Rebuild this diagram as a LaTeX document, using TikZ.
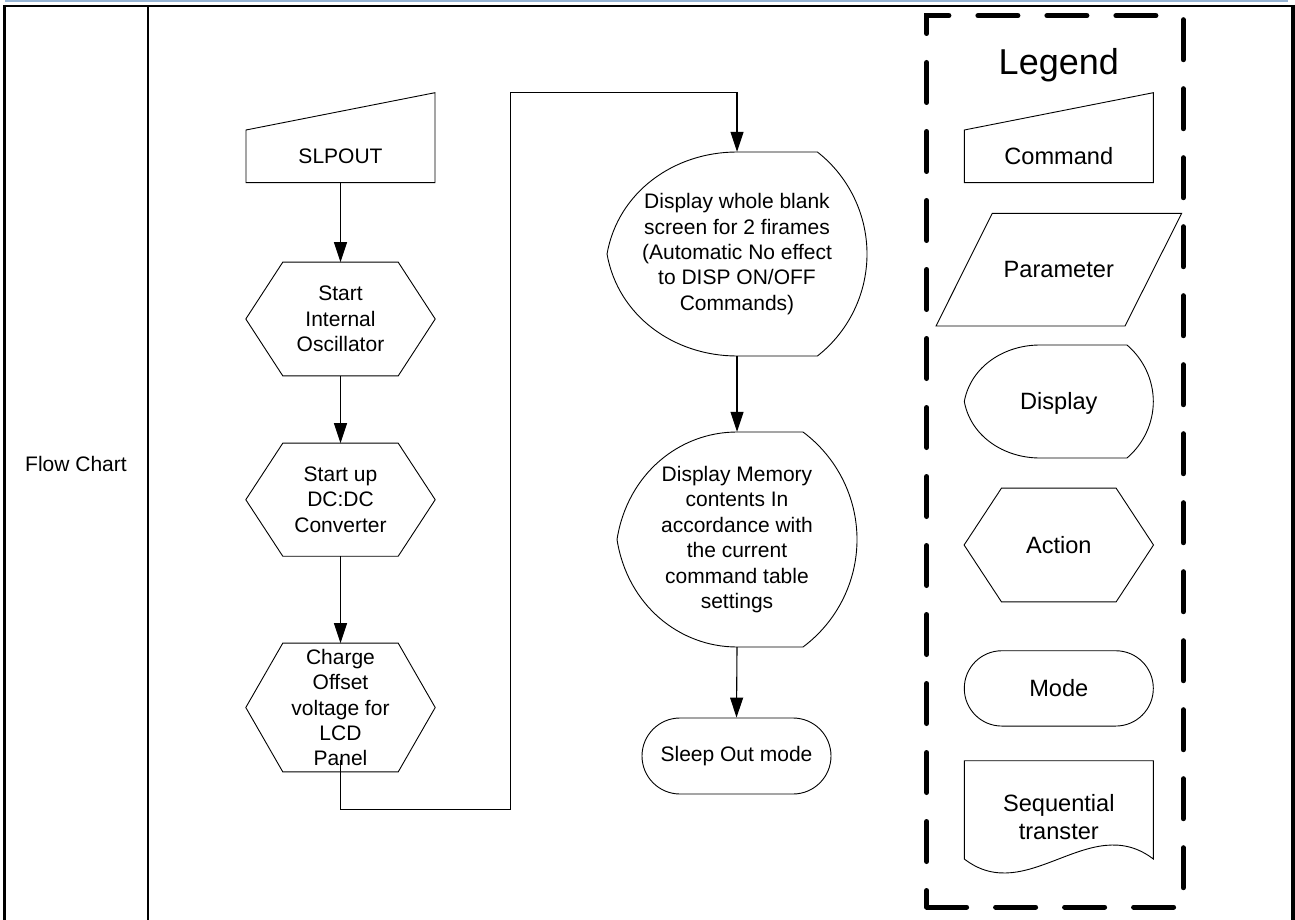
\documentclass[tikz,border=0pt]{standalone}
\usepackage{fontspec}
\setmainfont{Liberation Sans}
\usetikzlibrary{arrows.meta,calc}
\definecolor{topblue}{RGB}{150,180,212}
\newcommand\hexout[2]{\draw[outline] (#1.west) -- ($(#1.north west)+(#2,0)$) -- ($(#1.north east)+(-#2,0)$) -- (#1.east) -- ($(#1.south east)+(-#2,0)$) -- ($(#1.south west)+(#2,0)$) -- cycle;}
\begin{document}
\begin{tikzpicture}[x=1pt,y=-1pt,
  lbl/.style={inner sep=0pt, align=center, font=\fontsize{21pt}{25.4pt}\selectfont},
  leglbl/.style={inner sep=0pt, align=center, font=\fontsize{23.6pt}{28.6pt}\selectfont},
  outline/.style={draw=black, line width=0.9pt, line join=miter},
  conn/.style={draw=black, line width=1.1pt, -{Triangle[length=20pt,width=13pt]}},
  stadium/.style={draw=black, line width=0.9pt},
  legborder/.style={line width=5pt, line cap=round, dash pattern=on 40pt off 29pt},
]
\useasboundingbox (0,0) rectangle (1295,920);

% page frame
\draw[line width=1.5pt, topblue] (5,0.8) -- (1288,0.8);
\draw[line width=2.5pt] (3,6) -- (1294,6);
\draw[line width=3.5pt] (4.3,4.8) -- (4.3,920);
\draw[line width=2pt] (148,6) -- (148,920);
\draw[line width=4pt] (1292.8,4.8) -- (1292.8,920);

\node[lbl] (fc) at (76,464) {Flow Chart};

% ---------- flow chart ----------
\node[lbl, minimum width=189pt, minimum height=54pt] (slp) at (340.5,156) {SLPOUT};
\draw[outline] (246,130) -- (435,92.7) -- (435,182.7) -- (246,182.7) -- cycle;

\node[lbl, minimum width=189pt, minimum height=113.4pt] (h1) at (340.5,319) {Start\\Internal\\Oscillator};
\hexout{h1}{37}
\node[lbl, minimum width=189pt, minimum height=112.7pt] (h2) at (340.5,499.7) {Start up\\DC:DC\\Converter};
\hexout{h2}{37}
\node[lbl, minimum width=189pt, minimum height=128.4pt] (h3) at (340.5,707.5) {Charge\\Offset\\voltage for\\LCD\\Panel};
\hexout{h3}{37}

\node[lbl, minimum width=260pt, minimum height=204pt] (d1) at (737,254) {Display whole blank\\screen for 2 firames\\(Automatic No effect\\to DISP ON/OFF\\Commands)};
\draw[outline] (737,152) -- (817.4,152) .. controls (848.7,176.5) and (867,214.3) .. (867,254)
  .. controls (867,293.7) and (848.7,331.5) .. (817.4,356) -- (737,356)
  .. controls (674,356) and (618,316) .. (607,254)
  .. controls (618,192) and (674,152) .. (737,152) -- cycle;

\node[lbl, minimum width=240pt, minimum height=215pt] (d2) at (737,539.5) {Display Memory\\contents In\\accordance with\\the current\\command table\\settings};
\draw[outline] (737,432) -- (803,432) .. controls (836.9,457.3) and (857,497.2) .. (857,539.5)
  .. controls (857,581.8) and (836.9,621.7) .. (803,647) -- (737,647)
  .. controls (679.4,647) and (627.4,605.1) .. (617,539.5)
  .. controls (627.4,473.9) and (679.4,432) .. (737,432) -- cycle;

\node[lbl, stadium, rounded corners=38pt, minimum width=189pt, minimum height=76pt] (sl) at (736.5,756) {Sleep Out mode};

\coordinate (bend1) at (510.7,809.3);
\coordinate (bend2) at (510.7,92.7);
\draw[conn] (slp.south) -- (h1.north);
\draw[conn] (h1.south) -- (h2.north);
\draw[conn] (h2.south) -- (h3.north);
\draw[conn] ([yshift=12pt]h3.south) |- (bend1) -- (bend2) -| (d1.north);
\draw[conn] (d1.south) -- (d2.north);
\draw[conn] (d2.south) -- (sl.north);

% ---------- legend ----------
\draw[legborder, dash phase=65pt] (1183.3,15.7) -- (1183.3,907) -- (926.7,907);
\draw[legborder, dash phase=23.5pt] (926.7,907) -- (926.7,15.7) -- (1183.3,15.7);
\node[inner sep=0pt, anchor=base, font=\fontsize{36pt}{40pt}\selectfont] (lg) at (1058.8,75) {Legend};

\draw[outline] (964.3,130) -- (1153.3,92.7) -- (1153.3,182.7) -- (964.3,182.7) -- cycle;
\node[leglbl] (cmd) at (1058.8,156) {Command};

\draw[outline] (992.3,213.3) -- (1181.7,213.3) -- (1125,326) -- (936,326) -- cycle;
\node[leglbl] (par) at (1058.8,269.5) {Parameter};

\draw[outline] (1040,345) -- (1127,345) .. controls (1143.5,359.1) and (1153.3,379.8) .. (1153.3,401.5)
  .. controls (1153.3,423.2) and (1143.5,443.9) .. (1127,458) -- (1040,458)
  .. controls (1003.5,458) and (970.6,436) .. (964.3,401.5)
  .. controls (970.6,367) and (1003.5,345) .. (1040,345) -- cycle;
\node[leglbl] (dsp) at (1058.8,403) {Display};

\node[leglbl, minimum width=189pt, minimum height=113.4pt] (act) at (1058.8,545) {Action};
\hexout{act}{37.4}

\node[leglbl, stadium, rounded corners=37.5pt, minimum width=189pt, minimum height=75.3pt] (md) at (1058.8,688.4) {Mode};

\draw[outline] (964.3,760.7) -- (1153.3,760.7) -- (1153.3,859)
  .. controls (1090,810.5) and (1027,907.5) .. (964.3,859) -- cycle;
\node[leglbl] (seq) at (1058.8,817) {Sequential\\transter};
\end{tikzpicture}
\end{document}
